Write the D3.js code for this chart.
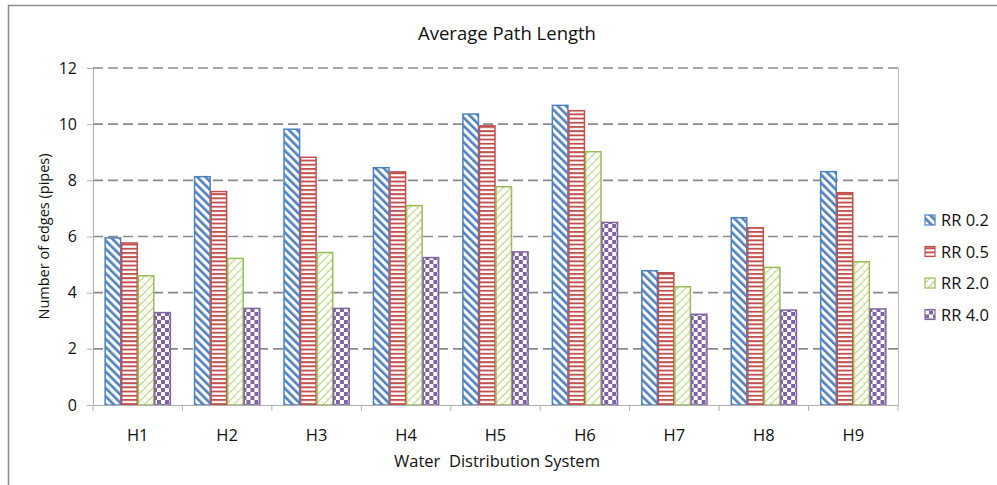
<!DOCTYPE html>
<html>
<head>
<meta charset="utf-8">
<script src="https://cdn.jsdelivr.net/npm/d3@7"></script>
<style>
  html, body { margin: 0; padding: 0; background: #fff; }
  svg text { font-family: "Open Sans", "Noto Sans", sans-serif; fill: #111; }
</style>
</head>
<body>
<svg id="chart" width="997" height="485"></svg>
<script>
// Average path length (number of edges) per water distribution system
const systems = ["H1", "H2", "H3", "H4", "H5", "H6", "H7", "H8", "H9"];
const seriesNames = ["RR 0.2", "RR 0.5", "RR 2.0", "RR 4.0"];
const rr02 = [5.95, 8.13, 9.82, 8.45, 10.36, 10.67, 4.78, 6.67, 8.31];
const rr05 = [5.77, 7.60, 8.82, 8.30, 9.94, 10.48, 4.71, 6.31, 7.56];
const rr20 = [4.60, 5.22, 5.43, 7.10, 7.77, 9.02, 4.21, 4.90, 5.10];
const rr40 = [3.29, 3.44, 3.44, 5.25, 5.45, 6.50, 3.23, 3.38, 3.42];
const yTicks = [0, 2, 4, 6, 8, 10, 12];

const seriesValues = [rr02, rr05, rr20, rr40];
const colors = ["#4f81bd", "#c0504d", "#9bbb59", "#8064a2"];
const patternIds = ["pat-diag", "pat-horiz", "pat-trellis", "pat-check"];

const svg = d3.select("#chart");
const margin = { left: 93, right: 99, top: 68, bottom: 80 };
const W = 997, H = 485;

const x = d3.scaleBand().domain(systems).range([margin.left, W - margin.right]).padding(0);
const xs = d3.scaleBand().domain(seriesNames)
  .range([x.bandwidth() * 0.13, x.bandwidth() * 0.87]).padding(0);
const y = d3.scaleLinear().domain([0, 12]).range([H - margin.bottom, margin.top]);

// ---- fill patterns ----
const defs = svg.append("defs");

// blue: downward diagonal stripes
const pDiag = defs.append("pattern").attr("id", "pat-diag")
  .attr("patternUnits", "userSpaceOnUse").attr("width", 5.8).attr("height", 10)
  .attr("patternTransform", "rotate(-45)");
pDiag.append("rect").attr("width", 5.8).attr("height", 10).attr("fill", "#fff");
pDiag.append("rect").attr("width", 2.6).attr("height", 10).attr("fill", colors[0]);

// red: horizontal stripes
const pHor = defs.append("pattern").attr("id", "pat-horiz")
  .attr("patternUnits", "userSpaceOnUse").attr("width", 10).attr("height", 4.2);
pHor.append("rect").attr("width", 10).attr("height", 4.2).attr("fill", "#fff");
pHor.append("rect").attr("width", 10).attr("height", 1.9).attr("fill", colors[1]);

// green: light trellis / zigzag
const pTre = defs.append("pattern").attr("id", "pat-trellis")
  .attr("patternUnits", "userSpaceOnUse").attr("width", 8).attr("height", 8);
pTre.append("rect").attr("width", 8).attr("height", 8).attr("fill", "#fff");
pTre.append("path").attr("d", "M0,8 L8,0 M-2,2 L2,-2 M6,10 L10,6")
  .attr("stroke", "#b8d384").attr("stroke-width", 1.1).attr("fill", "none");
pTre.append("path").attr("d", "M2,2 L4.5,4.5 M5.5,5.5 L8,8")
  .attr("stroke", "#cfe2a8").attr("stroke-width", 0.9).attr("fill", "none");

// purple: checkerboard
const pChk = defs.append("pattern").attr("id", "pat-check")
  .attr("patternUnits", "userSpaceOnUse").attr("width", 8).attr("height", 8);
pChk.append("rect").attr("width", 8).attr("height", 8).attr("fill", "#fff");
pChk.append("rect").attr("width", 4).attr("height", 4).attr("fill", colors[3]);
pChk.append("rect").attr("x", 4).attr("y", 4).attr("width", 4).attr("height", 4).attr("fill", colors[3]);

// ---- outer frame (top and left edges) ----
svg.append("path").attr("d", `M8.5,${H} L8.5,5.5 L${W},5.5`)
  .attr("fill", "none").attr("stroke", "#8c8c8c").attr("stroke-width", 1.5);

// ---- title ----
svg.append("text").attr("x", 507).attr("y", 40).attr("text-anchor", "middle")
  .attr("font-size", 18.5).text("Average Path Length");

// ---- gridlines ----
svg.append("g").selectAll("line").data(yTicks.filter(d => d > 0)).join("line")
  .attr("x1", margin.left).attr("x2", W - margin.right)
  .attr("y1", d => y(d)).attr("y2", d => y(d))
  .attr("stroke", "#8a8a8a").attr("stroke-width", 1.6).attr("stroke-dasharray", "10,5");

// right edge of plot area
svg.append("line").attr("x1", W - margin.right + 0.5).attr("x2", W - margin.right + 0.5)
  .attr("y1", y(12)).attr("y2", y(0)).attr("stroke", "#bdbdbd").attr("stroke-width", 1);

// ---- bars ----
const groups = svg.append("g").selectAll("g").data(systems).join("g")
  .attr("transform", d => `translate(${x(d)},0)`);

groups.selectAll("rect")
  .data((d, i) => seriesNames.map((s, k) => ({ s, k, v: seriesValues[k][i] })))
  .join("rect")
  .attr("x", d => xs(d.s) + 0.5)
  .attr("width", xs.bandwidth() - 1)
  .attr("y", d => y(d.v))
  .attr("height", d => y(0) - y(d.v))
  .attr("fill", d => `url(#${patternIds[d.k]})`)
  .attr("stroke", d => colors[d.k])
  .attr("stroke-width", 1.5);

// ---- axes ----
const yAxis = svg.append("g").attr("transform", `translate(${margin.left},0)`)
  .call(d3.axisLeft(y).tickValues(yTicks).tickSize(6).tickPadding(10).tickFormat(d3.format("d")));
yAxis.select(".domain").attr("stroke", "#b0b0b0");
yAxis.selectAll(".tick line").attr("stroke", "#b0b0b0");
yAxis.selectAll("text").attr("font-size", 16).attr("fill", "#111");

const xAxis = svg.append("g").attr("transform", `translate(0,${y(0)})`)
  .call(d3.axisBottom(x).tickSize(0).tickPadding(24));
xAxis.select(".domain").attr("stroke", "#b0b0b0");
xAxis.selectAll("text").attr("font-size", 16.5).attr("fill", "#111");
// boundary tick marks between categories
svg.append("g").selectAll("line").data(d3.range(systems.length + 1)).join("line")
  .attr("x1", i => margin.left + i * x.bandwidth()).attr("x2", i => margin.left + i * x.bandwidth())
  .attr("y1", y(0)).attr("y2", y(0) + 6)
  .attr("stroke", "#b0b0b0").attr("stroke-width", 1);

// axis titles
svg.append("text").attr("transform", `translate(49,${(y(0) + y(12)) / 2}) rotate(-90)`)
  .attr("text-anchor", "middle").attr("font-size", 14.5).text("Number of edges (pipes)");
svg.append("text").attr("x", 497).attr("y", 467).attr("text-anchor", "middle")
  .attr("font-size", 16.5).attr("xml:space", "preserve").style("white-space", "pre")
  .text("Water  Distribution System");

// ---- legend ----
const legend = svg.append("g").selectAll("g").data(seriesNames).join("g")
  .attr("transform", (d, i) => `translate(925,${220 + i * 31.5})`);
legend.append("rect").attr("x", 0).attr("y", -5).attr("width", 10).attr("height", 10)
  .attr("fill", (d, i) => `url(#${patternIds[i]})`)
  .attr("stroke", (d, i) => colors[i]).attr("stroke-width", 1.2);
legend.append("text").attr("x", 16).attr("y", 6).attr("font-size", 16.5).text(d => d);
</script>
</body>
</html>
